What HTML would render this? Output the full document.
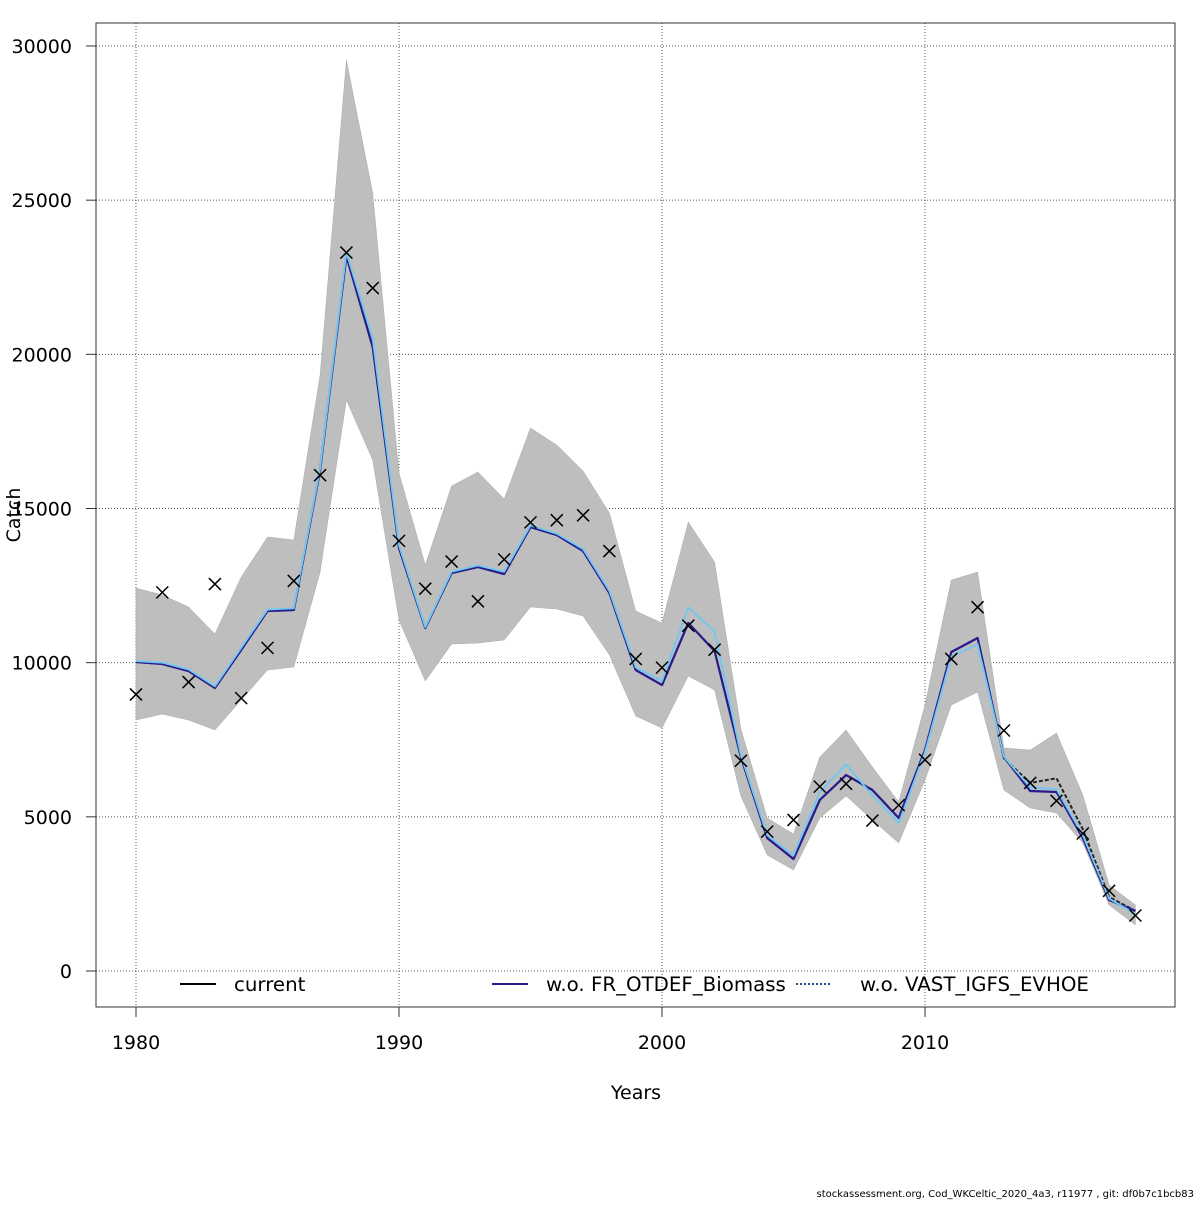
<!DOCTYPE html>
<html><head><meta charset="utf-8"><style>
body{margin:0;background:#fff;}
svg text{font-family:"DejaVu Sans","Liberation Sans",sans-serif;}
</style></head><body>
<svg id="chart" width="1200" height="1200" xmlns="http://www.w3.org/2000/svg">
<g id="grid"></g>
<g id="band"></g>
<g id="lines"></g>
<g id="obs"></g>
<rect x="96" y="23" width="1079" height="984" fill="none" stroke="#333" stroke-width="1"/>
<g id="axes"></g>
<text x="636" y="1099" font-size="19" text-anchor="middle">Years</text>
<text transform="translate(20,515) rotate(-90)" font-size="19" text-anchor="middle">Catch</text>
<g>
<line x1="180" y1="984" x2="216" y2="984" stroke="#000" stroke-width="2"/>
<text x="234" y="991" font-size="19.8">current</text>
<line x1="492" y1="984" x2="528" y2="984" stroke="#2a1a8c" stroke-width="2"/>
<text x="546" y="991" font-size="19.8">w.o. FR_OTDEF_Biomass</text>
<line x1="796" y1="984" x2="832" y2="984" stroke="#1a4fa0" stroke-width="2" stroke-dasharray="2,2"/>
<text x="860" y="991" font-size="19.8">w.o. VAST_IGFS_EVHOE</text>
</g>
<text x="1194" y="1197" font-size="10" text-anchor="end">stockassessment.org, Cod_WKCeltic_2020_4a3, r11977 , git: df0b7c1bcb83</text>
</svg>
<script>
const years=[1980,1981,1982,1983,1984,1985,1986,1987,1988,1989,1990,1991,1992,1993,1994,1995,1996,1997,1998,1999,2000,2001,2002,2003,2004,2005,2006,2007,2008,2009,2010,2011,2012,2013,2014,2015,2016,2017,2018];
const upper=[12420,12194,11805,10929,12777,14075,13977,19328,29544,25231,16150,13167,15729,16183,15307,17610,17058,16215,14853,11675,11286,14561,13264,7848,4962,4443,6940,7816,6616,5481,8626,12680,12940,7232,7167,7718,5707,2789,2140];
const lower=[8140,8334,8140,7816,8789,9761,9859,12940,18518,16572,11383,9405,10605,10637,10734,11805,11740,11513,10248,8270,7880,9567,9113,5675,3762,3275,4962,5675,4897,4151,6194,8626,9048,5870,5286,5124,4151,2140,1492];
const current=[10021,9956,9729,9178,10410,11675,11707,16247,23187,20236,13718,11124,12907,13101,12875,14399,14140,13621,12259,9761,9275,11286,10378,6940,4313,3632,5546,6356,5870,4962,7167,10345,10799,6900,6100,6250,4600,2400,1950];
const woFR=[10021,9956,9729,9178,10410,11675,11707,16247,23187,20236,13718,11124,12907,13101,12875,14399,14140,13621,12259,9761,9275,11286,10378,6940,4313,3632,5546,6356,5870,4962,7167,10345,10799,6940,5837,5805,4313,2302,1946];
const woVAST=[10050,10000,9780,9230,10480,11720,11760,16300,23300,20500,13800,11150,12950,13150,12950,14450,14180,13680,12320,9850,9400,11800,11000,7000,4400,3750,5800,6700,5700,4800,7100,10200,10600,6950,5950,5900,4400,2350,1850];
const observed=[8970,12280,9370,12550,8850,10480,12650,16080,23300,22150,13950,12400,13280,11990,13350,14550,14620,14780,13620,10120,9840,11200,10420,6820,4520,4900,5980,6070,4880,5380,6850,10120,11800,7800,6100,5520,4460,2600,1800];
const xTicks=[1980,1990,2000,2010];
const yTicks=[0,5000,10000,15000,20000,25000,30000];
const X=v=>136+(v-1980)*(925-136)/30;
const Y=v=>971-v*925/30000;
const NS='http://www.w3.org/2000/svg';
function mk(t,p,a){const e=document.createElementNS(NS,t);for(const k in a)e.setAttribute(k,a[k]);p.appendChild(e);return e;}
const grid=document.getElementById('grid'),axes=document.getElementById('axes');
xTicks.forEach(t=>{
 const l=mk('line',grid,{x1:X(t),x2:X(t),y1:23,y2:1007,stroke:'#555','stroke-dasharray':'1,2'});
 
 
 const tk=mk('line',axes,{x1:X(t),x2:X(t),y1:1007,y2:1017,stroke:'#333'});
 
 
 const tx=mk('text',axes,{x:X(t),y:1049,'font-size':19,'text-anchor':'middle'});tx.textContent=t;
 
 
});
yTicks.forEach(t=>{
 const l=mk('line',grid,{x1:96,x2:1175,y1:Y(t),y2:Y(t),stroke:'#555','stroke-dasharray':'1,2'});
 
 
 const tk=mk('line',axes,{x1:86,x2:96,y1:Y(t),y2:Y(t),stroke:'#333'});
 
 
 const tx=mk('text',axes,{x:72,y:Y(t)+7,'font-size':19,'text-anchor':'end'});tx.textContent=t;
 
 
});
let pts=years.map((y,i)=>X(y)+','+Y(upper[i]));
for(let i=years.length-1;i>=0;i--)pts.push(X(years[i])+','+Y(lower[i]));
const band=mk('polygon',document.getElementById('band'),{points:pts.join(' '),fill:'#bebebe',stroke:'#aaa','stroke-width':0.5});


const lines=document.getElementById('lines');
function line(arr,col,w,dash,name){
 const p=mk('polyline',lines,{points:years.map((y,i)=>X(y)+','+Y(arr[i])).join(' '),fill:'none',stroke:col,'stroke-width':w,'stroke-dasharray':dash||'none','stroke-linejoin':'round'});
 
 
}
line(current,'#222',2,'4,2','line-current');
line(woFR,'#2a1a8c',2.2,null,'line-wo-fr-otdef');
line(woVAST,'#6ec8f2',1.8,null,'line-wo-vast-igfs');
const og=document.getElementById('obs');
years.forEach((y,i)=>{
 const cx=X(y),cy=Y(observed[i]),s=6;
 const p=mk('path',og,{d:`M${cx-s},${cy-s}L${cx+s},${cy+s}M${cx-s},${cy+s}L${cx+s},${cy-s}`,stroke:'#000','stroke-width':1.5});
 
 
});
</script>
</body></html>
